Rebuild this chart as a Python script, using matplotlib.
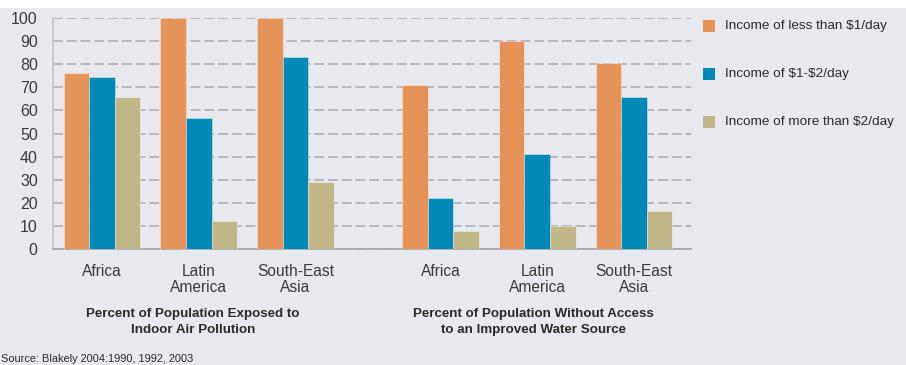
import matplotlib
matplotlib.use("Agg")
import matplotlib.pyplot as plt
from matplotlib.patches import Rectangle
import numpy as np

# Regions shown in each panel
regions = ["Africa", "Latin\nAmerica", "South-East\nAsia"]
panel_titles = ["Percent of Population Exposed to\nIndoor Air Pollution",
                "Percent of Population Without Access\nto an Improved Water Source"]
series_labels = ["Income of less than $1/day", "Income of $1-$2/day",
                 "Income of more than $2/day"]

# Indoor air pollution exposure (%)
air_low = [76, 100, 100]
air_mid = [74.5, 56.5, 83]
air_high = [66, 12, 29]

# Without access to improved water (%)
water_low = [71, 90, 80.5]
water_mid = [22, 41, 66]
water_high = [8, 10, 16.5]

yticks = list(range(0, 101, 10))
source_note = "Source: Blakely 2004:1990, 1992, 2003"

colors = ["#e6935a", "#0087b5", "#c1b687"]
bg = "#e8e9ee"
sans = ["Liberation Sans", "DejaVu Sans"]

W, H = 906, 365
fig = plt.figure(figsize=(W / 100, H / 100), dpi=100, facecolor=bg)
# white strip at the top of the graphic
fig.add_artist(Rectangle((0, 1 - 8 / H), 1, 8 / H, transform=fig.transFigure,
                         facecolor="white", edgecolor="none", zorder=0))

ax = fig.add_axes([53 / W, 1 - 249 / H, (691 - 53) / W, (249 - 18) / H])
ax.set_facecolor(bg)

group_pos = np.array([0, 1, 2, 3.5, 4.5, 5.5])
width = 0.264
series = [air_low + water_low, air_mid + water_mid, air_high + water_high]
for i, (vals, c) in enumerate(zip(series, colors)):
    ax.bar(group_pos + (i - 1) * width, vals, width=width, color=c,
           edgecolor=(1, 1, 1, 0.45), linewidth=0.6, zorder=3)

ax.set_xlim(-0.507, 6.09)
ax.set_ylim(0, 100)
ax.set_yticks(yticks)
ax.set_yticklabels([str(t) for t in yticks], family=sans, fontsize=11.5,
                   color="#3a3a3a")
ax.tick_params(axis="y", length=0, pad=11)
ax.set_xticks(group_pos)
ax.set_xticklabels(regions + regions, family=sans, fontsize=11.2,
                   color="#3a3a3a", linespacing=1.1, va="top")
ax.tick_params(axis="x", length=0, pad=11)

ax.yaxis.grid(True, color="#a6aab0", linewidth=1.1, linestyle=(0, (6.5, 2.5)),
              zorder=1)
ax.set_axisbelow(True)
for s in ["top", "right"]:
    ax.spines[s].set_visible(False)
ax.spines["left"].set_color("#c3c6cb")
ax.spines["left"].set_linewidth(1.3)
ax.spines["bottom"].set_color("#a3a8ae")
ax.spines["bottom"].set_linewidth(1.2)

# panel captions below the region names
trans = ax.get_xaxis_transform()
for center, title in zip([np.mean(group_pos[:3]) - 0.06, np.mean(group_pos[3:]) - 0.04],
                         panel_titles):
    ax.text(center, -0.255, title, transform=trans, ha="center", va="top",
            family=sans, fontsize=9.6, fontweight="bold", color="#2a2a2a",
            linespacing=1.45)

# legend on the right
for k, (lab, c) in enumerate(zip(series_labels, colors)):
    yc = 1 - (26 + k * 48) / H
    fig.add_artist(Rectangle((703 / W, yc - 6 / H), 12 / W, 12 / H,
                             transform=fig.transFigure, facecolor=c,
                             edgecolor="none"))
    fig.text(725 / W, yc, lab, ha="left", va="center", family=sans,
             fontsize=9.7, color="#2a2a2a", parse_math=False)

fig.text(1 / W, 1 - 359 / H, source_note, ha="left", va="center",
         family=sans, fontsize=7.9, color="#2a2a2a")

fig.savefig("out.png", dpi=100, facecolor=fig.get_facecolor())
